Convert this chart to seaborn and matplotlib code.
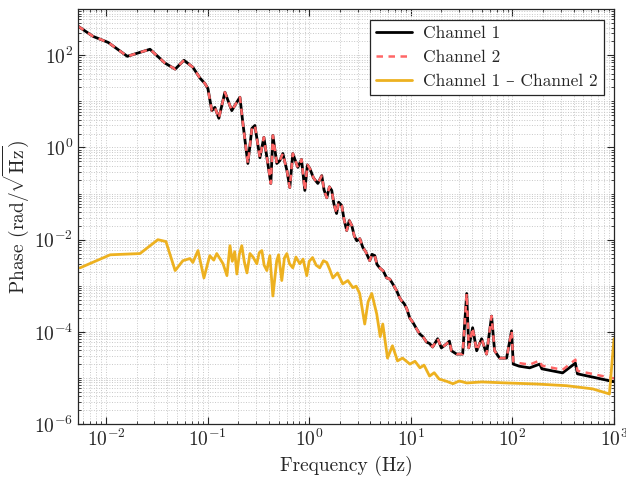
import numpy as np
import pandas as pd
import matplotlib
matplotlib.use("Agg")
import matplotlib.pyplot as plt
import seaborn as sns
from matplotlib.ticker import LogLocator, NullFormatter, FixedLocator

# frequency points for channel 1 / channel 2 (Hz)
freq_ch = [0.00531, 0.00745, 0.0105, 0.0162, 0.0271, 0.0380, 0.0479, 0.0585, 0.0716, 0.0841,
           0.0940, 0.1007, 0.110, 0.118, 0.129, 0.148, 0.173, 0.185, 0.208, 0.222,
           0.249, 0.273, 0.292, 0.327, 0.358, 0.419, 0.439, 0.480, 0.514, 0.550,
           0.603, 0.644, 0.690, 0.73, 0.773, 0.84, 0.906, 0.96, 1.014, 1.10,
           1.216, 1.33, 1.40, 1.49, 1.58, 1.667, 1.75, 1.86, 1.95, 2.09,
           2.2, 2.34, 2.48, 2.63, 2.78, 2.94, 3.15, 3.37, 3.6, 3.94,
           4.15, 4.42, 4.65, 4.94, 5.35, 5.79, 6.2, 6.64, 7.26, 7.76,
           8.13, 8.6, 9.12, 9.77, 10.5, 11.3, 12.2, 13.2, 14.3, 15.3,
           16.4, 18.4, 20.0, 22.5, 24.0, 25.1, 28.2, 32.4, 35.5, 37.2,
           40.6, 44.5, 49.8, 55.7, 62.4, 66.8, 74.8, 87.7, 98.2, 102,
           117, 148, 186, 195, 312, 417, 437, 676, 944, 1000]

channel1 = [427, 257, 190, 95, 135, 68, 50, 78, 55, 32,
            24.5, 19, 6.3, 7.4, 4.3, 15.8, 6.3, 8.1, 12.3, 3.5,
            0.45, 2.6, 3.0, 0.60, 1.66, 0.166, 1.82, 0.45, 0.52, 0.74,
            0.32, 0.135, 0.74, 0.52, 0.37, 0.55, 0.117, 0.42, 0.35, 0.22,
            0.166, 0.245, 0.12, 0.081, 0.14, 0.117, 0.06, 0.037, 0.065, 0.055,
            0.028, 0.0158, 0.026, 0.020, 0.012, 0.0095, 0.0105, 0.0068, 0.0055, 0.0035,
            0.0048, 0.0045, 0.0029, 0.00245, 0.0021, 0.00148, 0.0014, 0.0011, 7.8e-4, 5.5e-4,
            4.7e-4, 4.1e-4, 3.2e-4, 2.0e-4, 1.6e-4, 1.2e-4, 9.1e-5, 7.8e-5, 6.0e-5, 5.6e-5,
            4.7e-5, 7.1e-5, 4.5e-5, 5.5e-5, 6.3e-5, 3.9e-5, 3.3e-5, 3.3e-5, 6.8e-4, 4.5e-5,
            1.23e-4, 3.9e-5, 7.1e-5, 3.3e-5, 2.2e-4, 3.9e-5, 2.7e-5, 2.7e-5, 1.05e-4, 2.0e-5,
            1.8e-5, 1.66e-5, 2.0e-5, 1.58e-5, 1.29e-5, 2.1e-5, 1.23e-5, 1.0e-5, 8.5e-6, 8.3e-6]

channel2 = [427, 257, 190, 95, 135, 68, 50, 78, 55, 32,
            24.5, 19, 6.3, 7.4, 4.3, 15.8, 6.3, 8.1, 12.3, 3.5,
            0.45, 2.6, 3.0, 0.60, 1.66, 0.166, 1.82, 0.45, 0.52, 0.74,
            0.32, 0.135, 0.74, 0.52, 0.37, 0.55, 0.117, 0.42, 0.35, 0.22,
            0.166, 0.245, 0.12, 0.081, 0.14, 0.117, 0.06, 0.037, 0.065, 0.055,
            0.028, 0.0158, 0.026, 0.020, 0.012, 0.0095, 0.0105, 0.0068, 0.0055, 0.0035,
            0.0048, 0.0045, 0.0029, 0.00245, 0.0021, 0.00148, 0.0014, 0.0011, 7.8e-4, 5.5e-4,
            4.7e-4, 4.1e-4, 3.2e-4, 2.0e-4, 1.6e-4, 1.2e-4, 9.1e-5, 7.8e-5, 6.0e-5, 5.6e-5,
            4.7e-5, 7.1e-5, 4.5e-5, 5.5e-5, 6.3e-5, 3.9e-5, 3.3e-5, 3.3e-5, 6.8e-4, 4.5e-5,
            1.23e-4, 3.9e-5, 7.1e-5, 3.3e-5, 2.2e-4, 3.9e-5, 2.7e-5, 2.7e-5, 1.05e-4, 2.3e-5,
            2.1e-5, 1.95e-5, 2.4e-5, 1.85e-5, 1.5e-5, 2.5e-5, 1.43e-5, 1.17e-5, 1.0e-5, 9.8e-6]

# frequency points for the difference
freq_diff = [0.00555, 0.011, 0.0216, 0.0324, 0.0389, 0.0479, 0.0571, 0.0670, 0.0716, 0.0804,
             0.092, 0.105, 0.115, 0.123, 0.132, 0.142, 0.155, 0.166, 0.175, 0.185,
             0.194, 0.205, 0.217, 0.230, 0.244, 0.261, 0.28, 0.305, 0.322, 0.342,
             0.36, 0.383, 0.41, 0.439, 0.479, 0.50, 0.537, 0.57, 0.603, 0.64,
             0.690, 0.74, 0.809, 0.87, 0.946, 1.0, 1.08, 1.17, 1.27, 1.38,
             1.49, 1.6, 1.71, 1.9, 2.14, 2.4, 2.69, 2.9, 3.14, 3.52,
             3.8, 4.13, 4.62, 5.0, 5.3, 5.9, 6.6, 7.4, 8.3, 9.8,
             11.0, 12.3, 13.5, 15.3, 17.0, 19.0, 22.4, 26.0, 30.0, 35.5,
             50.0, 87.7, 173, 341, 617, 902, 1000]

difference = [0.00245, 0.0047, 0.0050, 0.0100, 0.0091, 0.00214, 0.0035, 0.0039, 0.0032, 0.0058,
              0.00148, 0.0045, 0.0036, 0.0050, 0.0039, 0.0030, 0.00166, 0.0074, 0.0034, 0.0055,
              0.0018, 0.0048, 0.0074, 0.0033, 0.0019, 0.0050, 0.0042, 0.0030, 0.0052, 0.0058,
              0.0028, 0.00214, 0.0045, 6.0e-4, 0.0035, 0.0047, 0.0013, 0.0040, 0.0050, 0.0030,
              0.00245, 0.0042, 0.0030, 0.0038, 0.00166, 0.0034, 0.0041, 0.0028, 0.00245, 0.0035,
              0.0032, 0.0022, 0.00148, 0.0019, 0.0011, 0.0013, 9.1e-4, 9.8e-4, 6.8e-4, 1.48e-4,
              4.5e-4, 6.8e-4, 2.45e-4, 7.9e-5, 1.48e-4, 2.7e-5, 5.0e-5, 2.35e-5, 2.7e-5, 2.0e-5,
              2.3e-5, 1.66e-5, 1.9e-5, 1.1e-5, 1.3e-5, 9.5e-6, 8.5e-6, 7.5e-6, 8.6e-6, 7.8e-6,
              8.2e-6, 7.8e-6, 7.4e-6, 6.8e-6, 5.8e-6, 4.5e-6, 7.1e-5]

sns.set_theme(style="ticks")
plt.rcParams['font.family'] = ['cmr10', 'DejaVu Serif']
plt.rcParams['mathtext.fontset'] = 'cm'
plt.rcParams['axes.formatter.use_mathtext'] = True
plt.rcParams['axes.unicode_minus'] = False

fig = plt.figure(figsize=(6.26, 4.83), dpi=100)
ax = fig.add_axes([0.1246, 0.122, 0.8562, 0.859])

sns.lineplot(x=freq_ch, y=channel1, ax=ax, color='black', lw=2.0, sort=False,
             estimator=None, label='Channel 1')
sns.lineplot(x=freq_ch, y=channel2, ax=ax, color='#FF6666', lw=1.8, sort=False,
             estimator=None, linestyle=(0, (2.6, 2.2)), label='Channel 2')
sns.lineplot(x=freq_diff, y=difference, ax=ax, color='#EDB120', lw=2.0, sort=False,
             estimator=None, label='Channel 1 – Channel 2')

ax.set_xscale('log')
ax.set_yscale('log')
ax.set_xlim(0.0053, 1000)
ax.set_ylim(1e-6, 1e3)

ax.xaxis.set_major_locator(LogLocator(base=10, numticks=12))
ax.yaxis.set_major_locator(FixedLocator([1e-6, 1e-4, 1e-2, 1e0, 1e2]))
ax.xaxis.set_minor_locator(LogLocator(base=10, subs=np.arange(2, 10), numticks=100))
ax.yaxis.set_minor_locator(LogLocator(base=10, subs=np.arange(1, 10), numticks=100))
ax.yaxis.set_minor_formatter(NullFormatter())
ax.xaxis.set_minor_formatter(NullFormatter())

ax.grid(True, which='both', color='#c8c8c8', linestyle=':', linewidth=0.7)
ax.tick_params(which='both', direction='in', top=True, right=True, labelsize=14, color='#262626')
ax.tick_params(which='major', length=5, width=0.8)
ax.tick_params(which='minor', length=2.5, width=0.6)
for s in ax.spines.values():
    s.set_color('#262626')
    s.set_linewidth(0.9)

ax.set_xlabel('Frequency (Hz)', fontsize=14)
ax.set_ylabel(r'Phase (rad/$\sqrt{\mathrm{Hz}}$)', fontsize=14, labelpad=2)

leg = ax.legend(loc='upper right', fontsize=12.5, frameon=True, fancybox=False,
                edgecolor='#262626', framealpha=1, handlelength=2.1, handletextpad=0.6,
                borderaxespad=0.6, borderpad=0.35, labelspacing=0.5)
leg.get_frame().set_linewidth(0.9)

fig.savefig('out.png', dpi=100)
